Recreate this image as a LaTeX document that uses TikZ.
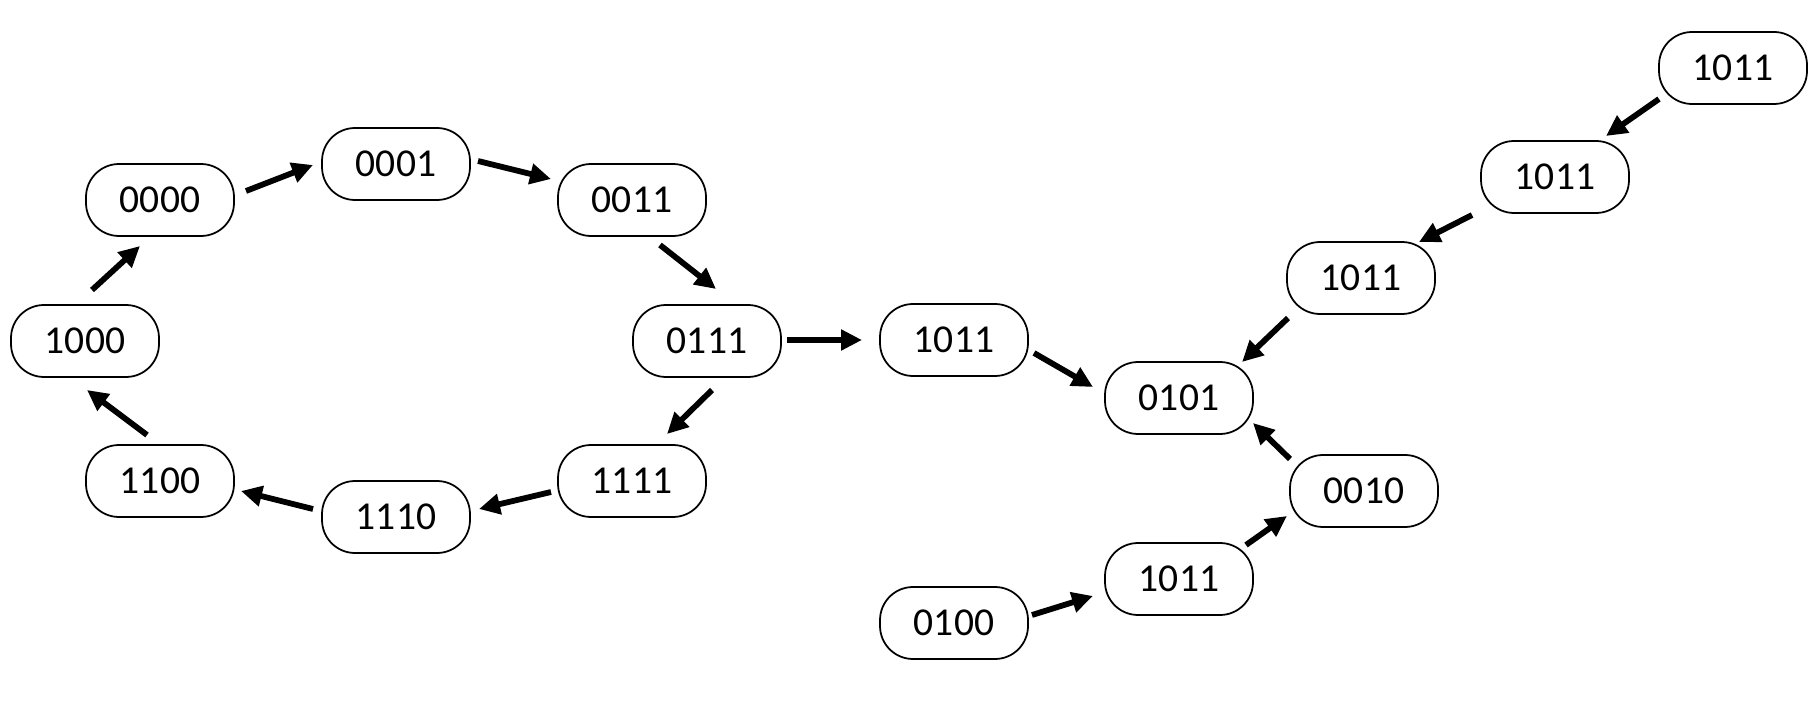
\documentclass[tikz,border=0pt]{standalone}
\usepackage{fontspec}
\setmainfont{Carlito}
\usetikzlibrary{arrows.meta}

\begin{document}
\begin{tikzpicture}[x=0.02cm, y=-0.02cm,
  state/.style={draw, line width=1pt, rounded corners=0.66cm, minimum width=2.96cm, minimum height=1.44cm, font=\fontsize{22.5}{25}\selectfont},
  arr/.style={line width=3.3pt, -{Triangle[length=0.42cm, width=0.4cm]}}]
  \useasboundingbox (0,0) rectangle (1819,709);
  % the cycle
  \node[state] (s0000) at (160,200) {0000};
  \node[state] (s0001) at (396,164) {0001};
  \node[state] (s0011) at (632,200) {0011};
  \node[state] (s0111) at (707,341) {0111};
  \node[state] (s1111) at (632,481) {1111};
  \node[state] (s1110) at (396,517) {1110};
  \node[state] (s1100) at (160,481) {1100};
  \node[state] (s1000) at (85,341) {1000};
  % the tree
  \node[state] (sMid) at (954,340) {1011};
  \node[state] (s0101) at (1179,398) {0101};
  \node[state] (sTopA) at (1733,68) {1011};
  \node[state] (sTopB) at (1555,177) {1011};
  \node[state] (sTopC) at (1361,278) {1011};
  \node[state] (s0010) at (1364,491) {0010};
  \node[state] (sBot) at (1179,579) {1011};
  \node[state] (s0100) at (954,623) {0100};

  \draw[arr] ([shift={(86,-9)}]s0000.center) -- ([shift={(-83,1)}]s0001.center);
  \draw[arr] ([shift={(82,-3)}]s0001.center) -- ([shift={(-81,-21)}]s0011.center);
  \draw[arr] ([shift={(28,45)}]s0011.center) -- ([shift={(9,-52)}]s0111.center);
  \draw[arr] ([shift={(80,-1)}]s0111.center) -- ([shift={(-92,0)}]sMid.center);
  \draw[arr] ([shift={(5,49)}]s0111.center) -- ([shift={(35,-47)}]s1111.center);
  \draw[arr] ([shift={(-81,11)}]s1111.center) -- ([shift={(83,-8)}]s1110.center);
  \draw[arr] ([shift={(-83,-8)}]s1110.center) -- ([shift={(81,10)}]s1100.center);
  \draw[arr] ([shift={(-13,-46)}]s1100.center) -- ([shift={(2,49)}]s1000.center);
  \draw[arr] ([shift={(7,-51)}]s1000.center) -- ([shift={(-20,46)}]s0000.center);

  \draw[arr] ([shift={(80,13)}]sMid.center) -- ([shift={(-86,-11)}]s0101.center);
  \draw[arr] ([shift={(-74,31)}]sTopA.center) -- ([shift={(51,-41)}]sTopB.center);
  \draw[arr] ([shift={(-83,38)}]sTopB.center) -- ([shift={(58,-36)}]sTopC.center);
  \draw[arr] ([shift={(-73,40)}]sTopC.center) -- ([shift={(63,-36)}]s0101.center);
  \draw[arr] ([shift={(-74,-32)}]s0010.center) -- ([shift={(74,25)}]s0101.center);
  \draw[arr] ([shift={(67,-34)}]sBot.center) -- ([shift={(-77,25)}]s0010.center);
  \draw[arr] ([shift={(78,-8)}]s0100.center) -- ([shift={(-86,17)}]sBot.center);
\end{tikzpicture}
\end{document}
